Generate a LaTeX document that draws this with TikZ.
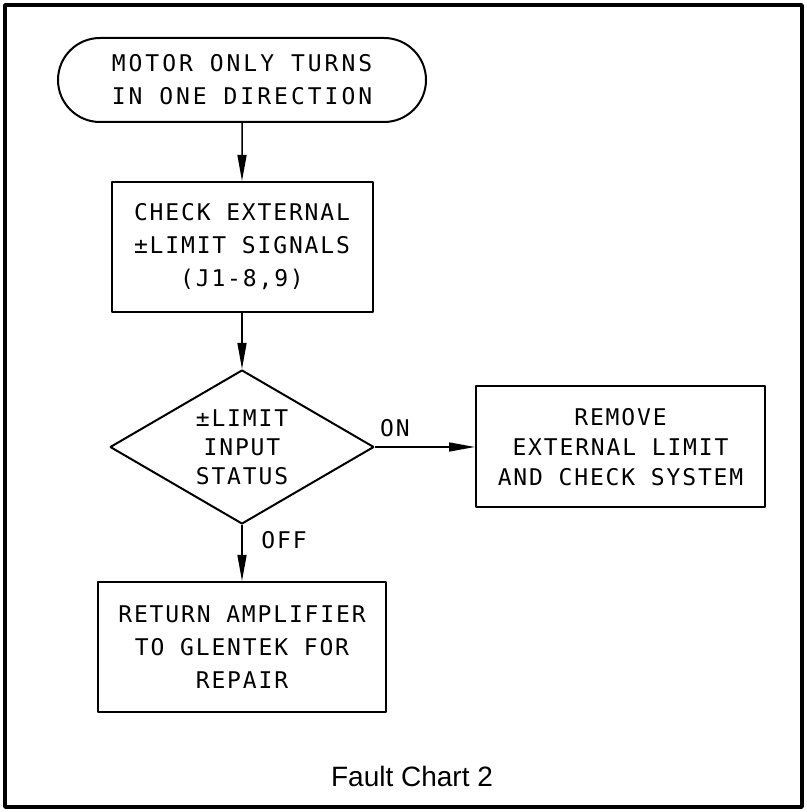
\documentclass[tikz,border=0pt]{standalone}
\usepackage{fontspec}
\usepackage{tikz}
\usetikzlibrary{arrows.meta,shapes.geometric,shapes.misc}
\newfontfamily\cadfont{DejaVu Sans Mono}[LetterSpace=8]
\newfontfamily\cadwidefont{DejaVu Sans Mono}[LetterSpace=13]
\newfontfamily\captionfont{Liberation Sans}

\tikzset{
  flowbox/.style={draw, line width=2bp, inner sep=0pt, align=center,
    font=\cadfont\fontsize{23bp}{33bp}\selectfont},
  termbox/.style={flowbox, rounded rectangle,
    font=\cadwidefont\fontsize{23bp}{33bp}\selectfont},
  decision/.style={flowbox, diamond, aspect=1.71,
    font=\cadfont\fontsize{23bp}{29bp}\selectfont},
  edgelabel/.style={inner sep=0pt, font=\cadfont\fontsize{23bp}{29bp}\selectfont},
}

\begin{document}
\begin{tikzpicture}[>={Triangle[length=26bp,width=9bp]},line join=bevel]
  \pgfsetlinewidth{1.5bp}
  \useasboundingbox (0bp,0bp) rectangle (807bp,812bp);
  % Frame
  \draw [line width=4bp] (5bp,5bp) rectangle (802bp,807bp);
%%
  % Node: start
  \node [termbox, minimum width=368bp, minimum height=84bp] (start) at (242bp,732bp)
    {MOTOR ONLY TURNS\\IN ONE DIRECTION};
  % Node: check
  \node [flowbox, minimum width=261bp, minimum height=130bp] (check) at (242bp,565bp)
    {CHECK EXTERNAL\\±LIMIT SIGNALS\\(J1-8,9)};
  % Node: status
  \node [decision, minimum width=264bp, minimum height=154bp] (status) at (242bp,365bp)
    {±LIMIT\\INPUT\\STATUS};
  % Node: remove
  \node [flowbox, minimum width=289bp, minimum height=121bp, font=\cadfont\fontsize{23bp}{30bp}\selectfont]
    (remove) at (620.5bp,365bp)
    {REMOVE\\EXTERNAL LIMIT\\AND CHECK SYSTEM};
  % Node: repair
  \node [flowbox, minimum width=288bp, minimum height=130bp] (repair) at (242bp,165bp)
    {RETURN AMPLIFIER\\TO GLENTEK FOR\\REPAIR};
%%
  % Edge: start -> check
  \draw [->] (start) -- (check);
  % Edge: check -> status
  \draw [->] (check) -- (status);
  % Edge: status -> remove
  \draw [->] (status) -- (remove);
  % Edge: status -> repair
  \draw [->] (status) -- (repair);
  % Labels
  \node [edgelabel] (on) at (395bp,384bp) {ON};
  \node [edgelabel] (off) at (284bp,272bp) {OFF};
  \node [inner sep=0pt, font=\captionfont\fontsize{28bp}{34bp}\selectfont] (caption) at (412bp,36bp)
    {Fault Chart 2};
%
\end{tikzpicture}
\end{document}
